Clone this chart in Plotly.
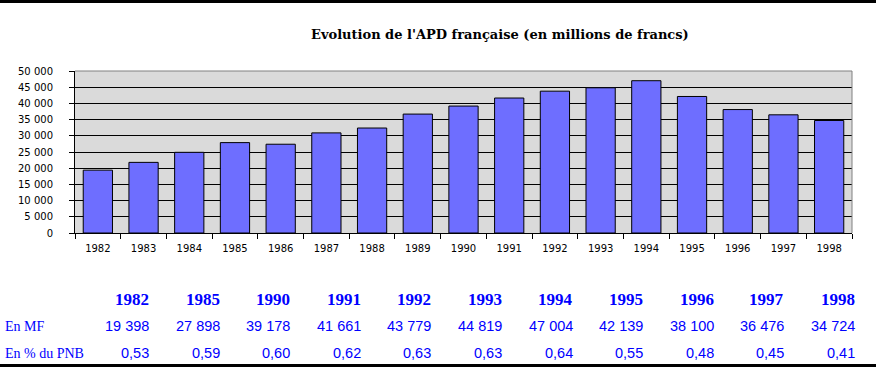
import plotly.graph_objects as go

# ---- data ----
years = ["1982", "1983", "1984", "1985", "1986", "1987", "1988", "1989", "1990",
         "1991", "1992", "1993", "1994", "1995", "1996", "1997", "1998"]
apd_mf = [19398, 21800, 24900, 27898, 27400, 30900, 32400, 36700, 39178,
          41661, 43779, 44819, 47004, 42139, 38100, 36476, 34724]

table_years = ["1982", "1985", "1990", "1991", "1992", "1993", "1994", "1995", "1996", "1997", "1998"]
table_mf = ["19 398", "27 898", "39 178", "41 661", "43 779", "44 819", "47 004", "42 139", "38 100", "36 476", "34 724"]
table_pnb = ["0,53", "0,59", "0,60", "0,62", "0,63", "0,63", "0,64", "0,55", "0,48", "0,45", "0,41"]
row_labels = ["En MF", "En % du PNB"]
title_text = "Evolution de l'APD française (en millions de francs)"

# ---- layout geometry ----
W, H = 876, 367
L, R, T, B = 75, 24, 71, 134
PW, PH = W - L - R, H - T - B

def px_x(x):
    return (x - L) / PW

def px_y(y):
    return 1 - (y - T) / PH

fig = go.Figure()
fig.add_trace(go.Bar(
    x=years, y=apd_mf,
    marker=dict(color="#6e6eff", line=dict(color="black", width=1)),
    hoverinfo="x+y",
))

annotations = []
annotations.append(dict(text="<b>" + title_text + "</b>", xref="paper", yref="paper",
                        x=px_x(500), y=px_y(35), xanchor="center", yanchor="middle",
                        showarrow=False,
                        font=dict(family="DejaVu Serif", size=13, color="black")))

col_right0 = 151
col_step = 70.6
for i, (yr, mf, pnb) in enumerate(zip(table_years, table_mf, table_pnb)):
    xr = col_right0 + i * col_step
    annotations.append(dict(text="<b>" + yr + "</b>", xref="paper", yref="paper",
                            x=px_x(xr), y=px_y(299), xanchor="right", yanchor="middle",
                            showarrow=False,
                            font=dict(family="Liberation Serif", size=17, color="#0000ff")))
    annotations.append(dict(text=mf, xref="paper", yref="paper",
                            x=px_x(xr), y=px_y(326), xanchor="right", yanchor="middle",
                            showarrow=False,
                            font=dict(family="Liberation Sans", size=14.5, color="#0000ff")))
    annotations.append(dict(text=pnb, xref="paper", yref="paper",
                            x=px_x(xr), y=px_y(353), xanchor="right", yanchor="middle",
                            showarrow=False,
                            font=dict(family="Liberation Sans", size=14.5, color="#0000ff")))

for lbl, yy in zip(row_labels, [326, 353]):
    annotations.append(dict(text=lbl, xref="paper", yref="paper",
                            x=px_x(3), y=px_y(yy), xanchor="left", yanchor="middle",
                            showarrow=False,
                            font=dict(family="Liberation Serif", size=14, color="#0000ff")))

shapes = [
    # top / right grey border of plot area
    dict(type="line", xref="paper", yref="paper", x0=0, x1=1, y0=1, y1=1,
         line=dict(color="#808080", width=1), layer="above"),
    dict(type="line", xref="paper", yref="paper", x0=1, x1=1, y0=0, y1=1,
         line=dict(color="#808080", width=1), layer="above"),
    # black bands top and bottom of the image
    dict(type="rect", xref="paper", yref="paper", x0=px_x(0), x1=px_x(W),
         y0=px_y(3), y1=px_y(0), fillcolor="black", line=dict(width=0)),
    dict(type="rect", xref="paper", yref="paper", x0=px_x(0), x1=px_x(W),
         y0=px_y(H), y1=px_y(364), fillcolor="black", line=dict(width=0)),
]

fig.update_layout(
    width=W, height=H, autosize=False,
    margin=dict(l=L, r=R, t=T, b=B, pad=0),
    paper_bgcolor="white",
    plot_bgcolor="#dadada",
    separators=", ",
    showlegend=False,
    bargap=0.36,
    font=dict(family="DejaVu Sans", size=10, color="black"),
    annotations=annotations,
    shapes=shapes,
    xaxis=dict(type="category", showline=True, linecolor="black", linewidth=1,
               ticks="outside", ticklen=5, tickcolor="black", tickson="boundaries",
               ticklabelstandoff=6,
               showgrid=False, tickfont=dict(family="DejaVu Sans", size=10)),
    yaxis=dict(range=[0, 50000], tickvals=list(range(0, 50001, 5000)), tickformat=",d",
               showline=True, linecolor="black", linewidth=1,
               ticks="outside", ticklen=5, tickcolor="black",
               showgrid=True, gridcolor="black", gridwidth=1, zeroline=False,
               ticklabelstandoff=14,
               tickfont=dict(family="DejaVu Sans", size=10)),
)

fig.write_html("out.html", config={"displayModeBar": False},
               post_script=("document.body.style.margin='0';"
                            "document.body.style.overflow='hidden';"
                            "document.documentElement.style.overflow='hidden';"
                            "document.documentElement.style.background='white';"))
